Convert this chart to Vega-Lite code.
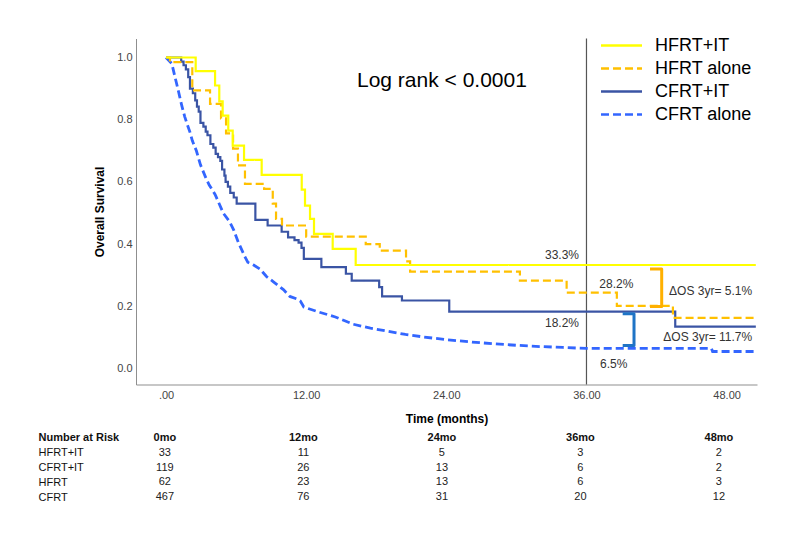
{
  "$schema": "https://vega.github.io/schema/vega-lite/v6.json",
  "padding": {"left": 38, "top": 33.5, "right": 0, "bottom": 0},
  "config": {"font": "Liberation Sans", "view": {"stroke": null}, "concat": {"spacing": 6}},
  "resolve": {"legend": {"color": "independent", "strokeDash": "independent"}},
  "datasets": {
    "km": [
      {"group": "CFRT+IT", "t": 0, "s": 1.0}, {"group": "CFRT+IT", "t": 1.3, "s": 0.987}, {"group": "CFRT+IT", "t": 1.5, "s": 0.975},
      {"group": "CFRT+IT", "t": 1.7, "s": 0.962}, {"group": "CFRT+IT", "t": 1.9, "s": 0.937}, {"group": "CFRT+IT", "t": 2.05, "s": 0.9},
      {"group": "CFRT+IT", "t": 2.3, "s": 0.885}, {"group": "CFRT+IT", "t": 2.5, "s": 0.862}, {"group": "CFRT+IT", "t": 2.65, "s": 0.842},
      {"group": "CFRT+IT", "t": 2.8, "s": 0.826}, {"group": "CFRT+IT", "t": 2.95, "s": 0.79}, {"group": "CFRT+IT", "t": 3.2, "s": 0.778},
      {"group": "CFRT+IT", "t": 3.4, "s": 0.762}, {"group": "CFRT+IT", "t": 3.55, "s": 0.75}, {"group": "CFRT+IT", "t": 3.8, "s": 0.722},
      {"group": "CFRT+IT", "t": 4.05, "s": 0.71}, {"group": "CFRT+IT", "t": 4.25, "s": 0.69}, {"group": "CFRT+IT", "t": 4.45, "s": 0.68},
      {"group": "CFRT+IT", "t": 4.65, "s": 0.668}, {"group": "CFRT+IT", "t": 4.8, "s": 0.64}, {"group": "CFRT+IT", "t": 5.0, "s": 0.62},
      {"group": "CFRT+IT", "t": 5.1, "s": 0.6}, {"group": "CFRT+IT", "t": 5.3, "s": 0.585}, {"group": "CFRT+IT", "t": 5.5, "s": 0.565},
      {"group": "CFRT+IT", "t": 5.8, "s": 0.55}, {"group": "CFRT+IT", "t": 6.05, "s": 0.53}, {"group": "CFRT+IT", "t": 7.65, "s": 0.478},
      {"group": "CFRT+IT", "t": 8.7, "s": 0.46}, {"group": "CFRT+IT", "t": 9.9, "s": 0.44}, {"group": "CFRT+IT", "t": 10.45, "s": 0.422},
      {"group": "CFRT+IT", "t": 11.0, "s": 0.413}, {"group": "CFRT+IT", "t": 11.35, "s": 0.405}, {"group": "CFRT+IT", "t": 11.6, "s": 0.388},
      {"group": "CFRT+IT", "t": 11.8, "s": 0.353}, {"group": "CFRT+IT", "t": 13.3, "s": 0.326}, {"group": "CFRT+IT", "t": 15.4, "s": 0.305},
      {"group": "CFRT+IT", "t": 15.9, "s": 0.283}, {"group": "CFRT+IT", "t": 18.25, "s": 0.262}, {"group": "CFRT+IT", "t": 18.5, "s": 0.232},
      {"group": "CFRT+IT", "t": 20.2, "s": 0.219}, {"group": "CFRT+IT", "t": 24.25, "s": 0.183}, {"group": "CFRT+IT", "t": 43.6, "s": 0.135},
      {"group": "CFRT+IT", "t": 50.5, "s": 0.135},
      {"group": "HFRT alone", "t": 0, "s": 1.0}, {"group": "HFRT alone", "t": 0.34, "s": 0.985}, {"group": "HFRT alone", "t": 2.25, "s": 0.894},
      {"group": "HFRT alone", "t": 3.77, "s": 0.851}, {"group": "HFRT alone", "t": 4.71, "s": 0.804}, {"group": "HFRT alone", "t": 5.14, "s": 0.756},
      {"group": "HFRT alone", "t": 5.74, "s": 0.707}, {"group": "HFRT alone", "t": 6.16, "s": 0.653}, {"group": "HFRT alone", "t": 6.76, "s": 0.594},
      {"group": "HFRT alone", "t": 8.4, "s": 0.578}, {"group": "HFRT alone", "t": 9.14, "s": 0.53}, {"group": "HFRT alone", "t": 9.42, "s": 0.481},
      {"group": "HFRT alone", "t": 9.93, "s": 0.46}, {"group": "HFRT alone", "t": 12.0, "s": 0.424}, {"group": "HFRT alone", "t": 17.1, "s": 0.4},
      {"group": "HFRT alone", "t": 18.3, "s": 0.379}, {"group": "HFRT alone", "t": 20.55, "s": 0.345}, {"group": "HFRT alone", "t": 20.9, "s": 0.312},
      {"group": "HFRT alone", "t": 30.3, "s": 0.283}, {"group": "HFRT alone", "t": 34.3, "s": 0.244}, {"group": "HFRT alone", "t": 38.6, "s": 0.202},
      {"group": "HFRT alone", "t": 43.4, "s": 0.163}, {"group": "HFRT alone", "t": 50.5, "s": 0.163},
      {"group": "HFRT+IT", "t": 0, "s": 1.0}, {"group": "HFRT+IT", "t": 2.54, "s": 0.956}, {"group": "HFRT+IT", "t": 4.2, "s": 0.91},
      {"group": "HFRT+IT", "t": 4.56, "s": 0.859}, {"group": "HFRT+IT", "t": 4.85, "s": 0.813}, {"group": "HFRT+IT", "t": 5.33, "s": 0.765},
      {"group": "HFRT+IT", "t": 5.71, "s": 0.717}, {"group": "HFRT+IT", "t": 6.68, "s": 0.671}, {"group": "HFRT+IT", "t": 8.19, "s": 0.623},
      {"group": "HFRT+IT", "t": 11.62, "s": 0.575}, {"group": "HFRT+IT", "t": 11.9, "s": 0.524}, {"group": "HFRT+IT", "t": 12.33, "s": 0.481},
      {"group": "HFRT+IT", "t": 12.67, "s": 0.433}, {"group": "HFRT+IT", "t": 14.27, "s": 0.385}, {"group": "HFRT+IT", "t": 16.24, "s": 0.333},
      {"group": "HFRT+IT", "t": 50.5, "s": 0.333}
    ],
    "kmsmooth": [
      {"group": "CFRT alone", "t": 0, "s": 1.0}, {"group": "CFRT alone", "t": 0.5, "s": 0.98}, {"group": "CFRT alone", "t": 0.77, "s": 0.937},
      {"group": "CFRT alone", "t": 1.05, "s": 0.894}, {"group": "CFRT alone", "t": 1.35, "s": 0.845}, {"group": "CFRT alone", "t": 1.6, "s": 0.81},
      {"group": "CFRT alone", "t": 1.8, "s": 0.787}, {"group": "CFRT alone", "t": 2.05, "s": 0.76}, {"group": "CFRT alone", "t": 2.25, "s": 0.733},
      {"group": "CFRT alone", "t": 2.6, "s": 0.7}, {"group": "CFRT alone", "t": 2.95, "s": 0.655}, {"group": "CFRT alone", "t": 3.4, "s": 0.614},
      {"group": "CFRT alone", "t": 3.7, "s": 0.59}, {"group": "CFRT alone", "t": 4.2, "s": 0.56}, {"group": "CFRT alone", "t": 4.9, "s": 0.5},
      {"group": "CFRT alone", "t": 5.45, "s": 0.472}, {"group": "CFRT alone", "t": 5.8, "s": 0.445}, {"group": "CFRT alone", "t": 6.2, "s": 0.405},
      {"group": "CFRT alone", "t": 6.75, "s": 0.36}, {"group": "CFRT alone", "t": 7.0, "s": 0.342}, {"group": "CFRT alone", "t": 7.5, "s": 0.333},
      {"group": "CFRT alone", "t": 8.05, "s": 0.32}, {"group": "CFRT alone", "t": 8.6, "s": 0.296}, {"group": "CFRT alone", "t": 9.2, "s": 0.279},
      {"group": "CFRT alone", "t": 10.05, "s": 0.254}, {"group": "CFRT alone", "t": 10.6, "s": 0.232}, {"group": "CFRT alone", "t": 11.2, "s": 0.224},
      {"group": "CFRT alone", "t": 11.5, "s": 0.217}, {"group": "CFRT alone", "t": 11.8, "s": 0.198}, {"group": "CFRT alone", "t": 12.9, "s": 0.184},
      {"group": "CFRT alone", "t": 14.5, "s": 0.166}, {"group": "CFRT alone", "t": 16.0, "s": 0.143}, {"group": "CFRT alone", "t": 17.5, "s": 0.13},
      {"group": "CFRT alone", "t": 19.0, "s": 0.12}, {"group": "CFRT alone", "t": 20.5, "s": 0.11}, {"group": "CFRT alone", "t": 22.0, "s": 0.102},
      {"group": "CFRT alone", "t": 24.0, "s": 0.093}, {"group": "CFRT alone", "t": 26.0, "s": 0.086}, {"group": "CFRT alone", "t": 28.0, "s": 0.08},
      {"group": "CFRT alone", "t": 30.0, "s": 0.075}, {"group": "CFRT alone", "t": 32.0, "s": 0.071}, {"group": "CFRT alone", "t": 34.0, "s": 0.068},
      {"group": "CFRT alone", "t": 36.0, "s": 0.065}, {"group": "CFRT alone", "t": 46.7, "s": 0.065}, {"group": "CFRT alone", "t": 46.8, "s": 0.055},
      {"group": "CFRT alone", "t": 50.5, "s": 0.055}
    ],
    "labels": [
      {"label": "33.3%", "t": 32.45, "s": 0.366},
      {"label": "28.2%", "t": 37.1, "s": 0.272},
      {"label": "18.2%", "t": 32.45, "s": 0.148},
      {"label": "6.5%", "t": 37.16, "s": 0.015},
      {"label": "ΔOS 3yr= 5.1%", "t": 43.07, "s": 0.249},
      {"label": "ΔOS 3yr= 11.7%", "t": 42.58, "s": 0.101}
    ],
    "brackets": [
      {"id": "HFRT", "ord": 0, "t": 41.44, "s": 0.3206}, {"id": "HFRT", "ord": 1, "t": 42.44, "s": 0.3206},
      {"id": "HFRT", "ord": 2, "t": 42.44, "s": 0.1994}, {"id": "HFRT", "ord": 3, "t": 41.44, "s": 0.1994},
      {"id": "CFRT", "ord": 0, "t": 39.1, "s": 0.176}, {"id": "CFRT", "ord": 1, "t": 40.07, "s": 0.176},
      {"id": "CFRT", "ord": 2, "t": 40.07, "s": 0.074}, {"id": "CFRT", "ord": 3, "t": 39.1, "s": 0.074}
    ],
    "risk": [
      {"row": "Number at Risk", "m": 0, "v": "0mo"}, {"row": "Number at Risk", "m": 12, "v": "12mo"}, {"row": "Number at Risk", "m": 24, "v": "24mo"},
      {"row": "Number at Risk", "m": 36, "v": "36mo"}, {"row": "Number at Risk", "m": 48, "v": "48mo"},
      {"row": "HFRT+IT", "m": 0, "v": "33"}, {"row": "HFRT+IT", "m": 12, "v": "11"}, {"row": "HFRT+IT", "m": 24, "v": "5"}, {"row": "HFRT+IT", "m": 36, "v": "3"}, {"row": "HFRT+IT", "m": 48, "v": "2"},
      {"row": "CFRT+IT", "m": 0, "v": "119"}, {"row": "CFRT+IT", "m": 12, "v": "26"}, {"row": "CFRT+IT", "m": 24, "v": "13"}, {"row": "CFRT+IT", "m": 36, "v": "6"}, {"row": "CFRT+IT", "m": 48, "v": "2"},
      {"row": "HFRT", "m": 0, "v": "62"}, {"row": "HFRT", "m": 12, "v": "23"}, {"row": "HFRT", "m": 24, "v": "13"}, {"row": "HFRT", "m": 36, "v": "6"}, {"row": "HFRT", "m": 48, "v": "3"},
      {"row": "CFRT", "m": 0, "v": "467"}, {"row": "CFRT", "m": 12, "v": "76"}, {"row": "CFRT", "m": 24, "v": "31"}, {"row": "CFRT", "m": 36, "v": "20"}, {"row": "CFRT", "m": 48, "v": "12"}
    ]
  },
  "vconcat": [
    {
      "width": 621,
      "height": 346,
      "encoding": {
        "x": {"field": "t", "type": "quantitative",
          "scale": {"domain": [-2.57, 50.6], "nice": false, "zero": false},
          "axis": {"title": "Time (months)", "values": [0, 12, 24, 36, 48],
            "labelExpr": "datum.value == 0 ? '.00' : format(datum.value, '.2f')",
            "grid": false, "ticks": false, "labelPadding": 5, "labelFontSize": 11, "labelColor": "#444",
            "domainColor": "#8f8f8f", "titleFontSize": 12, "titleFontWeight": "bold", "titleColor": "#000", "titlePadding": 13}}
      },
      "layer": [
        {
          "data": {"values": [{"t": 36}]},
          "mark": {"type": "rule", "color": "#555555", "strokeWidth": 1.2},
          "encoding": {}
        },
        {
          "data": {"name": "kmsmooth"},
          "mark": {"type": "line", "interpolate": "linear", "strokeWidth": 2.8},
          "encoding": {
            "y": {"field": "s", "type": "quantitative", "scale": {"domain": [-0.051, 1.061], "nice": false, "zero": false},
              "axis": {"title": "Overall Survival", "values": [0, 0.2, 0.4, 0.6, 0.8, 1], "format": ".1f", "grid": false, "ticks": false,
                "labelPadding": 4, "labelFontSize": 11, "labelColor": "#444", "domainColor": "#8f8f8f",
                "titleFontSize": 12, "titleFontWeight": "bold", "titleColor": "#000", "titlePadding": 10}},
            "color": {"field": "group", "type": "nominal",
              "scale": {"domain": ["HFRT+IT", "HFRT alone", "CFRT+IT", "CFRT alone"], "range": ["#FFFF00", "#FFC000", "#3A54A4", "#3366FF"]},
              "legend": {"orient": "none", "legendX": 474, "legendY": -4.5, "title": null, "symbolType": "M-2,0H2", "symbolSize": 420,
                "symbolStrokeWidth": 2.5, "labelFontSize": 18, "labelColor": "#000", "labelOffset": 22, "rowPadding": 2, "padding": 0}},
            "strokeDash": {"field": "group", "type": "nominal",
              "scale": {"domain": ["HFRT+IT", "HFRT alone", "CFRT+IT", "CFRT alone"], "range": [[1, 0], [8, 4], [1, 0], [8, 4]]},
              "legend": {"orient": "none", "legendX": 474, "legendY": -4.5, "title": null, "symbolType": "M-2,0H2", "symbolSize": 420,
                "symbolStrokeWidth": 2.5, "labelFontSize": 18, "labelColor": "#000", "labelOffset": 22, "rowPadding": 2, "padding": 0}}
          }
        },
        {
          "data": {"name": "km"},
          "mark": {"type": "line", "interpolate": "step-after", "strokeWidth": 2.2},
          "encoding": {
            "y": {"field": "s", "type": "quantitative", "scale": {"domain": [-0.051, 1.061], "nice": false, "zero": false}},
            "color": {"field": "group", "type": "nominal",
              "scale": {"domain": ["HFRT+IT", "HFRT alone", "CFRT+IT", "CFRT alone"], "range": ["#FFFF00", "#FFC000", "#3A54A4", "#3366FF"]}},
            "strokeDash": {"field": "group", "type": "nominal",
              "scale": {"domain": ["HFRT+IT", "HFRT alone", "CFRT+IT", "CFRT alone"], "range": [[1, 0], [8, 4], [1, 0], [8, 4]]}}
          }
        },
        {
          "data": {"name": "brackets"},
          "transform": [{"filter": "datum.id == 'HFRT'"}],
          "mark": {"type": "line", "color": "#FFB000", "strokeWidth": 3, "strokeJoin": "round"},
          "encoding": {
            "y": {"field": "s", "type": "quantitative", "scale": {"domain": [-0.051, 1.061], "nice": false, "zero": false}},
            "order": {"field": "ord"}
          }
        },
        {
          "data": {"name": "brackets"},
          "transform": [{"filter": "datum.id == 'CFRT'"}],
          "mark": {"type": "line", "color": "#1F74C6", "strokeWidth": 3, "strokeJoin": "round"},
          "encoding": {
            "y": {"field": "s", "type": "quantitative", "scale": {"domain": [-0.051, 1.061], "nice": false, "zero": false}},
            "order": {"field": "ord"}
          }
        },
        {
          "data": {"name": "labels"},
          "mark": {"type": "text", "align": "left", "baseline": "middle", "fontSize": 12, "color": "#333"},
          "encoding": {
            "y": {"field": "s", "type": "quantitative", "scale": {"domain": [-0.051, 1.061], "nice": false, "zero": false}},
            "text": {"field": "label"}
          }
        },
        {
          "data": {"values": [{"label": "Log rank < 0.0001", "t": 16.35, "s": 0.923}]},
          "mark": {"type": "text", "align": "left", "baseline": "middle", "fontSize": 21, "color": "#000"},
          "encoding": {
            "y": {"field": "s", "type": "quantitative", "scale": {"domain": [-0.051, 1.061], "nice": false, "zero": false}},
            "text": {"field": "label"}
          }
        }
      ]
    },
    {
      "width": 621,
      "height": 74,
      "data": {"name": "risk"},
      "encoding": {
        "x": {"field": "m", "type": "quantitative", "scale": {"domain": [-2.5, 51.3], "nice": false, "zero": false}, "axis": null},
        "y": {"field": "row", "type": "nominal",
          "sort": ["Number at Risk", "HFRT+IT", "CFRT+IT", "HFRT", "CFRT"],
          "scale": {"type": "point", "padding": 0.5},
          "axis": {"title": null, "domain": false, "ticks": false, "labelAlign": "left", "labelPadding": 98,
            "labelFontSize": 11, "labelColor": "#111",
            "labelFontWeight": {"condition": {"test": "datum.value == 'Number at Risk'", "value": "bold"}, "value": "normal"}}}
      },
      "layer": [
        {
          "transform": [{"filter": "datum.row != 'Number at Risk'"}],
          "mark": {"type": "text", "fontSize": 11, "color": "#222", "baseline": "middle"},
          "encoding": {"text": {"field": "v"}}
        },
        {
          "transform": [{"filter": "datum.row == 'Number at Risk'"}],
          "mark": {"type": "text", "fontSize": 11, "fontWeight": "bold", "color": "#111", "baseline": "middle"},
          "encoding": {"text": {"field": "v"}}
        }
      ]
    }
  ]
}
